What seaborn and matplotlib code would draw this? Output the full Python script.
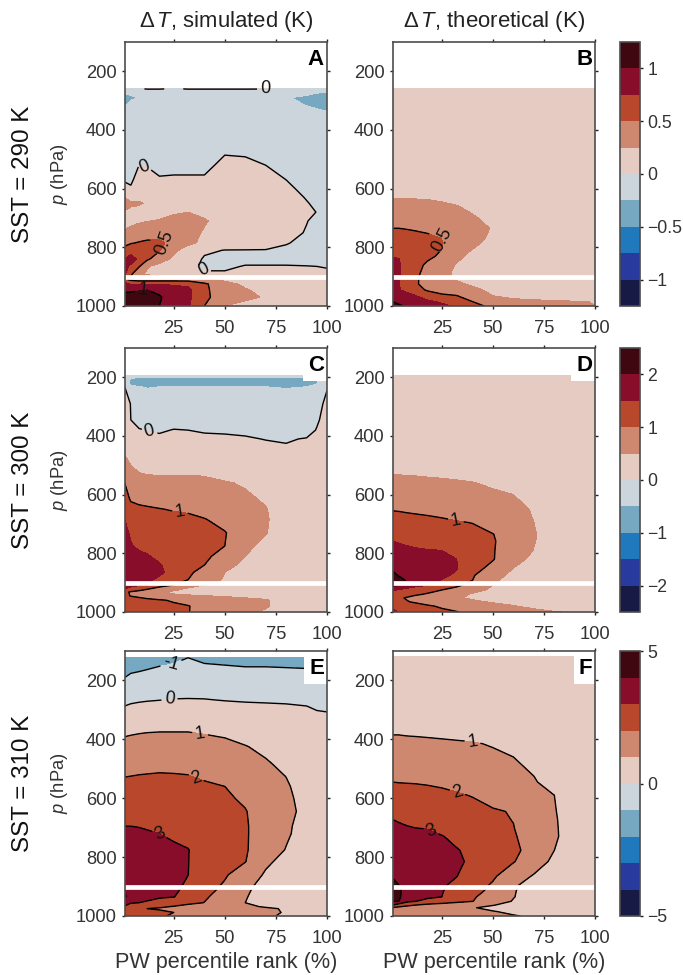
import numpy as np
import matplotlib
matplotlib.use("Agg")
import matplotlib.pyplot as plt
from matplotlib.colors import ListedColormap, BoundaryNorm
import seaborn as sns

pw_rank = [1, 4, 8, 12, 18, 25, 32, 40, 50, 60, 70, 80, 90, 95, 100]

p_A = [260, 268, 290, 315, 345, 400, 480, 520, 570, 600, 630, 650, 680, 710, 750, 785, 810, 840, 865, 890, 910, 925, 945, 970, 1000]
dT_A = [
 [-.02,-.05,-.02,.01,.01,-.02,.01,.01,.01,.01,.005,-.02,-.05,-.1,-.15],
 [-.22,-.2,-.15,-.1,-.1,-.1,-.1,-.1,-.1,-.1,-.1,-.15,-.2,-.22,-.24],
 [-.3,-.28,-.24,-.15,-.12,-.12,-.12,-.12,-.12,-.12,-.13,-.24,-.28,-.32,-.33],
 [-.27,-.2,-.15,-.12,-.12,-.12,-.12,-.12,-.12,-.12,-.12,-.15,-.26,-.3,-.32],
 [-.2,-.15,-.12,-.1,-.1,-.1,-.1,-.1,-.1,-.1,-.1,-.12,-.15,-.18,-.22],
 [-.15,-.13,-.1,-.1,-.1,-.1,-.1,-.1,-.08,-.08,-.1,-.12,-.15,-.16,-.2],
 [-.1,-.12,-.07,-.07,-.08,-.08,-.08,-.06,-.01,-.02,-.05,-.1,-.15,-.15,-.15],
 [-.1,-.12,0.0,-.01,-.06,-.06,-.06,-.06,.06,.05,.0,-.06,-.12,-.13,-.15],
 [-.01,-.03,.07,.07,.02,.03,.03,.03,.1,.1,.07,0,-.08,-.1,-.15],
 [.03,.02,.1,.1,.06,.06,.07,.08,.12,.12,.1,.04,-.05,-.08,-.13],
 [.25,.1,.2,.14,.12,.12,.13,.13,.14,.14,.12,.07,-.01,-.05,-.12],
 [.3,.3,.28,.22,.14,.16,.18,.16,.15,.15,.13,.08,.01,-.03,-.11],
 [.24,.18,.16,.18,.2,.23,.25,.2,.16,.15,.13,.08,.02,-.002,-.1],
 [.18,.21,.23,.245,.26,.3,.31,.27,.16,.14,.12,.08,.005,-.03,-.09],
 [.27,.3,.33,.37,.36,.34,.32,.23,.15,.12,.09,.05,-.01,-.05,-.08],
 [.42,.48,.52,.55,.56,.4,.3,.2,.12,.08,.05,.01,-.04,-.06,-.08],
 [.6,.68,.72,.6,.52,.3,.15,.03,-.005,-.005,-.005,-.03,-.06,-.08,-.08],
 [.76,.82,.72,.54,.36,.2,.1,-.02,-.05,-.05,-.05,-.05,-.06,-.06,-.07],
 [.8,.72,.52,.27,.17,.11,.05,-.03,-.03,.01,.01,.01,.005,.0,-.005],
 [.78,.55,.3,.22,.15,.1,.05,.02,.02,.03,.03,.03,.03,.02,.015],
 [.55,.45,.4,.4,.4,.4,.4,.33,.2,.1,.08,.06,.05,.04,.04],
 [.85,.72,.72,.72,.72,.72,.7,.54,.33,.2,.12,.09,.07,.06,.05],
 [.97,.98,.99,1.0,.95,.88,.8,.55,.35,.27,.18,.12,.09,.07,.06],
 [1.05,1.05,1.06,1.08,1.02,.9,.8,.55,.38,.3,.23,.14,.1,.08,.07],
 [1.1,1.1,1.1,1.08,1.0,.9,.78,.5,.25,.18,.13,.1,.08,.07,.06],
]

p_B = [260, 500, 600, 635, 660, 700, 735, 770, 800, 830, 860, 890, 910, 925, 945, 965, 985, 1000]
dT_B = [
 [.05,.05,.05,.05,.05,.04,.04,.04,.03,.03,.03,.02,.02,.02,.02],
 [.17,.17,.16,.16,.15,.12,.1,.08,.06,.05,.04,.04,.03,.03,.03],
 [.23,.23,.22,.22,.21,.19,.17,.14,.1,.07,.06,.05,.04,.04,.03],
 [.25,.25,.25,.25,.245,.23,.2,.17,.12,.08,.07,.06,.05,.04,.04],
 [.32,.32,.32,.31,.3,.28,.26,.21,.14,.1,.08,.07,.05,.05,.04],
 [.42,.42,.42,.41,.39,.35,.31,.27,.2,.12,.1,.08,.06,.05,.05],
 [.5,.5,.49,.48,.46,.4,.34,.3,.24,.15,.11,.09,.07,.06,.05],
 [.6,.6,.58,.56,.54,.5,.38,.3,.22,.14,.11,.09,.07,.06,.05],
 [.68,.68,.66,.62,.58,.51,.36,.26,.19,.14,.11,.09,.07,.06,.05],
 [.74,.74,.7,.62,.55,.46,.3,.2,.17,.13,.11,.09,.07,.06,.05],
 [.8,.78,.66,.58,.46,.33,.24,.17,.15,.12,.1,.09,.07,.06,.05],
 [.85,.78,.62,.55,.42,.3,.22,.17,.15,.12,.1,.09,.07,.06,.05],
 [.85,.77,.62,.54,.4,.3,.24,.2,.16,.13,.1,.09,.07,.06,.05],
 [.87,.75,.62,.53,.42,.34,.28,.23,.18,.14,.11,.09,.08,.07,.06],
 [.92,.77,.68,.6,.47,.38,.33,.28,.22,.17,.13,.11,.09,.08,.07],
 [.96,.9,.83,.76,.64,.55,.51,.38,.25,.2,.16,.13,.11,.1,.08],
 [1.0,.95,.88,.84,.79,.72,.6,.5,.38,.3,.29,.28,.26,.255,.24],
 [1.1,1.03,.98,.95,.88,.8,.72,.58,.44,.37,.33,.3,.28,.27,.25],
]

p_C = [195, 205, 215, 232, 290, 345, 380, 410, 430, 465, 500, 535, 560, 615, 650, 685, 730, 775, 810, 840, 865, 890, 908, 918, 932, 945, 960, 980, 1000]
dT_C = [
 [-.1,-.4,-.42,-.42,-.42,-.42,-.42,-.42,-.42,-.42,-.42,-.42,-.42,-.3,-.05],
 [-.2,-.52,-.55,-.55,-.55,-.55,-.55,-.55,-.55,-.55,-.55,-.55,-.55,-.52,-.1],
 [-.3,-.6,-.65,-.65,-.65,-.65,-.65,-.65,-.65,-.65,-.65,-.65,-.6,-.55,-.2],
 [.0,-.47,-.49,-.52,-.5,-.49,-.49,-.49,-.48,-.48,-.5,-.52,-.5,-.45,-.03],
 [.12,-.01,-.25,-.3,-.3,-.3,-.3,-.3,-.32,-.32,-.33,-.33,-.33,-.15,.1],
 [.2,.0,-.1,-.12,-.13,-.1,-.12,-.13,-.15,-.17,-.2,-.22,-.22,-.05,.14],
 [.3,.15,.02,-.01,-.03,.01,.0,-.03,-.04,-.06,-.12,-.15,-.14,.02,.2],
 [.38,.25,.1,.07,.05,.08,.09,.06,.05,.03,-.01,-.03,.02,.12,.25],
 [.43,.3,.15,.13,.11,.14,.14,.12,.1,.08,.04,.01,.06,.15,.28],
 [.5,.37,.25,.22,.2,.23,.23,.2,.18,.15,.11,.08,.11,.18,.3],
 [.6,.5,.35,.32,.3,.33,.33,.3,.26,.22,.16,.12,.13,.2,.3],
 [.72,.62,.56,.52,.5,.5,.51,.49,.38,.3,.2,.15,.15,.2,.28],
 [1.0,.75,.65,.62,.6,.6,.6,.58,.54,.45,.28,.18,.16,.2,.25],
 [1.2,.95,.9,.88,.8,.78,.75,.72,.66,.58,.45,.2,.15,.15,.2],
 [1.35,1.15,1.08,1.05,1.02,.97,.95,.87,.75,.62,.52,.3,.2,.18,.2],
 [1.5,1.32,1.25,1.2,1.15,1.12,1.08,1.02,.88,.7,.54,.3,.2,.18,.18],
 [1.6,1.45,1.35,1.3,1.27,1.2,1.16,1.1,1.02,.78,.52,.3,.2,.17,.17],
 [1.7,1.53,1.43,1.4,1.35,1.28,1.2,1.12,1.0,.6,.38,.25,.18,.16,.16],
 [1.8,1.7,1.6,1.53,1.42,1.32,1.2,1.08,.85,.5,.3,.22,.17,.15,.15],
 [1.85,1.75,1.68,1.62,1.53,1.35,1.15,1.0,.6,.42,.25,.2,.17,.15,.15],
 [1.85,1.75,1.7,1.62,1.55,1.4,1.1,.8,.5,.35,.22,.18,.16,.15,.15],
 [1.8,1.7,1.62,1.55,1.45,1.2,1.0,.75,.45,.3,.2,.17,.15,.14,.14],
 [1.65,1.6,1.55,1.5,1.2,1.0,.8,.5,.35,.25,.18,.15,.14,.13,.13],
 [1.55,1.45,1.3,1.15,.9,.7,.5,.4,.3,.22,.17,.14,.13,.12,.12],
 [1.1,.95,.85,.7,.55,.42,.38,.35,.3,.25,.2,.16,.14,.13,.12],
 [1.1,.98,.9,.8,.65,.58,.54,.51,.47,.42,.35,.26,.2,.17,.15],
 [1.35,1.25,1.18,1.12,1.05,.95,.85,.7,.65,.6,.54,.3,.2,.17,.15],
 [1.35,1.3,1.25,1.22,1.15,1.08,1.02,.85,.7,.62,.55,.25,.17,.15,.13],
 [1.3,1.28,1.22,1.18,1.12,1.06,1.02,.8,.65,.55,.45,.2,.15,.13,.12],
]

p_D = [195, 400, 532, 560, 600, 640, 655, 695, 735, 758, 790, 820, 850, 875, 892, 908, 925, 940, 952, 965, 980, 1000]
dT_D = [
 [.2,.2,.2,.18,.16,.14,.12,.1,.1,.1,.1,.1,.1,.1,.1],
 [.35,.35,.35,.34,.33,.32,.3,.27,.22,.18,.15,.13,.12,.1,.1],
 [.5,.5,.49,.49,.48,.47,.45,.43,.37,.3,.24,.18,.15,.13,.12],
 [.58,.58,.57,.56,.55,.54,.53,.51,.46,.39,.29,.21,.17,.14,.12],
 [.7,.7,.68,.67,.65,.63,.61,.58,.54,.5,.36,.24,.18,.15,.13],
 [.95,.93,.9,.88,.85,.8,.75,.68,.6,.56,.46,.28,.2,.16,.13],
 [1.0,.99,.97,.95,.92,.88,.84,.76,.65,.58,.48,.3,.2,.16,.13],
 [1.2,1.18,1.15,1.14,1.12,1.08,1.03,.99,.82,.66,.5,.33,.21,.17,.14],
 [1.37,1.36,1.33,1.3,1.27,1.22,1.17,1.12,1.01,.76,.53,.3,.2,.17,.14],
 [1.5,1.47,1.42,1.38,1.33,1.27,1.2,1.15,1.04,.75,.52,.3,.2,.17,.14],
 [1.62,1.6,1.58,1.55,1.52,1.5,1.3,1.18,1.03,.72,.49,.28,.2,.16,.14],
 [1.8,1.77,1.72,1.68,1.62,1.57,1.51,1.25,1.03,.62,.42,.26,.19,.16,.14],
 [1.93,1.88,1.8,1.75,1.68,1.6,1.53,1.2,.85,.5,.35,.24,.18,.15,.14],
 [2.1,1.97,1.85,1.75,1.65,1.57,1.45,1.05,.62,.42,.28,.2,.17,.15,.14],
 [2.3,2.15,1.96,1.85,1.7,1.48,1.2,1.0,.55,.38,.25,.2,.17,.15,.14],
 [2.1,2.0,1.8,1.65,1.53,1.3,1.1,.85,.5,.3,.22,.18,.16,.15,.14],
 [1.6,1.45,1.35,1.25,1.15,1.0,.85,.65,.42,.27,.2,.17,.15,.14,.13],
 [1.25,1.2,1.12,1.06,.95,.8,.65,.45,.35,.25,.18,.16,.14,.13,.13],
 [1.2,1.05,.97,.85,.7,.6,.53,.46,.36,.27,.2,.17,.15,.14,.13],
 [1.3,1.15,1.02,.95,.85,.75,.65,.55,.47,.4,.3,.2,.17,.15,.14],
 [1.4,1.3,1.2,1.15,1.05,.95,.85,.72,.6,.52,.42,.28,.2,.17,.15],
 [1.6,1.5,1.35,1.28,1.18,1.08,1.02,.9,.75,.68,.6,.53,.44,.38,.3],
]

p_E = [123, 148, 165, 190, 230, 265, 290, 320, 375, 395, 425, 485, 525, 560, 600, 645, 695, 720, 775, 815, 860, 905, 935, 955, 968, 975, 988, 1000]
dT_E = [
 [-1.6,-1.6,-1.5,-1.4,-1.25,-1.1,-1.0,-1.1,-1.2,-1.3,-1.3,-1.3,-1.3,-1.3,-1.3],
 [-1.3,-1.25,-1.2,-1.15,-1.03,-.97,-.95,-.97,-1.0,-1.05,-1.05,-1.08,-1.1,-1.1,-1.1],
 [-1.2,-1.1,-1.05,-.98,-.9,-.85,-.83,-.85,-.87,-.9,-.9,-.92,-.95,-.95,-.98],
 [-1.0,-.87,-.8,-.75,-.7,-.65,-.65,-.65,-.67,-.7,-.7,-.72,-.75,-.75,-.8],
 [-.55,-.45,-.38,-.35,-.3,-.27,-.25,-.27,-.3,-.33,-.35,-.38,-.45,-.5,-.55],
 [-.2,-.13,-.08,-.05,-.02,.02,.03,.02,-.04,-.08,-.1,-.14,-.2,-.3,-.35],
 [.03,.1,.14,.17,.2,.22,.24,.22,.2,.15,.12,.1,.03,-.1,-.17],
 [.3,.35,.4,.42,.45,.47,.48,.45,.43,.38,.33,.28,.23,.15,.13],
 [.87,.9,.95,.98,1.0,1.0,1.0,.95,.85,.7,.6,.5,.4,.3,.25],
 [1.03,1.08,1.12,1.15,1.15,1.15,1.12,1.08,1.0,.85,.72,.6,.45,.33,.3],
 [1.3,1.33,1.37,1.38,1.4,1.4,1.38,1.3,1.2,1.03,.85,.7,.5,.38,.33],
 [1.75,1.8,1.85,1.87,1.9,1.9,1.85,1.75,1.55,1.3,1.08,.85,.6,.43,.35],
 [1.98,2.0,2.02,2.03,2.04,2.03,2.02,1.9,1.7,1.45,1.2,.99,.65,.47,.38],
 [2.2,2.23,2.25,2.27,2.28,2.25,2.2,2.12,2.0,1.6,1.3,1.08,.7,.5,.4],
 [2.45,2.47,2.5,2.5,2.5,2.48,2.45,2.32,2.15,1.85,1.4,1.15,.75,.5,.4],
 [2.75,2.77,2.75,2.73,2.72,2.68,2.6,2.5,2.3,2.05,1.5,1.2,.8,.5,.4],
 [3.0,3.0,2.98,2.95,2.88,2.78,2.7,2.55,2.35,2.1,1.5,1.12,.72,.48,.38],
 [3.12,3.12,3.1,3.05,3.0,2.88,2.78,2.6,2.35,2.1,1.5,1.1,.7,.45,.38],
 [3.35,3.35,3.32,3.28,3.22,3.12,3.02,2.7,2.4,2.1,1.4,.97,.65,.43,.35],
 [3.5,3.48,3.45,3.4,3.3,3.15,3.02,2.6,2.3,2.03,1.15,.75,.5,.4,.33],
 [3.8,3.7,3.6,3.45,3.3,3.12,3.01,2.4,2.1,1.5,.9,.6,.45,.38,.3],
 [4.0,3.8,3.6,3.45,3.35,3.2,2.8,2.3,1.85,1.15,.7,.5,.4,.35,.3],
 [4.1,3.6,3.35,3.22,3.1,3.02,2.7,2.12,1.6,1.05,.65,.5,.4,.35,.3],
 [3.2,3.05,3.0,2.9,2.65,2.5,2.25,1.98,1.4,1.0,.8,.6,.5,.4,.35],
 [2.95,2.65,2.45,2.35,2.15,1.95,1.65,1.4,1.25,1.1,.95,.7,.5,.4,.35],
 [2.8,2.3,2.1,2.0,1.9,1.8,1.6,1.45,1.3,1.2,1.08,.95,.55,.42,.35],
 [2.7,2.5,2.4,2.3,2.2,2.0,1.75,1.55,1.4,1.3,1.15,.95,.55,.42,.35],
 [2.5,2.4,2.3,2.25,2.1,1.9,1.7,1.5,1.35,1.2,1.1,.9,.5,.4,.35],
]

p_F = [120, 300, 385, 415, 460, 525, 545, 590, 645, 672, 705, 730, 777, 815, 865, 895, 915, 935, 950, 963, 972, 985, 1000]
dT_F = [
 [.4,.38,.35,.3,.25,.2,.17,.13,.1,.08,.06,.05,.04,.03,.03],
 [.7,.7,.68,.65,.6,.55,.5,.45,.4,.3,.25,.18,.14,.1,.1],
 [1.0,1.0,.98,.97,.95,.92,.88,.83,.75,.6,.48,.35,.27,.22,.2],
 [1.17,1.16,1.15,1.14,1.12,1.1,1.08,1.05,.95,.78,.58,.42,.3,.25,.22],
 [1.42,1.41,1.4,1.38,1.35,1.32,1.28,1.22,1.12,1.0,.72,.5,.35,.28,.24],
 [1.87,1.85,1.84,1.82,1.8,1.75,1.67,1.55,1.36,1.18,1.0,.7,.4,.3,.26],
 [2.0,1.98,1.97,1.96,1.93,1.88,1.8,1.67,1.47,1.25,1.05,.77,.42,.32,.27],
 [2.35,2.33,2.3,2.27,2.22,2.15,2.07,1.97,1.7,1.42,1.2,1.0,.5,.35,.28],
 [2.83,2.78,2.7,2.65,2.58,2.5,2.37,2.22,2.08,1.95,1.35,1.05,.55,.37,.3],
 [3.0,2.93,2.85,2.8,2.72,2.62,2.48,2.32,2.13,1.98,1.42,1.08,.57,.38,.3],
 [3.22,3.15,3.08,3.03,3.0,2.8,2.62,2.43,2.2,2.03,1.55,1.1,.58,.38,.3],
 [3.38,3.3,3.22,3.16,3.1,3.04,2.8,2.55,2.25,2.08,1.62,1.12,.55,.38,.3],
 [3.6,3.52,3.45,3.4,3.3,3.2,3.06,2.8,2.45,2.2,1.65,1.0,.5,.36,.3],
 [3.8,3.7,3.6,3.5,3.4,3.3,3.12,2.88,2.5,2.05,1.45,.8,.45,.33,.28],
 [3.95,3.85,3.7,3.55,3.4,3.2,3.03,2.6,2.12,1.45,.92,.6,.38,.3,.25],
 [4.2,4.0,3.7,3.55,3.35,3.12,2.8,2.4,1.9,1.1,.72,.5,.35,.3,.25],
 [4.2,4.1,3.75,3.55,3.3,3.05,2.65,2.25,1.8,1.05,.68,.45,.33,.28,.24],
 [4.25,4.15,3.5,3.3,3.15,3.0,2.55,2.1,1.6,1.03,.65,.42,.32,.27,.24],
 [4.05,4.0,3.2,3.02,2.75,2.5,2.25,2.02,1.4,.95,.6,.42,.32,.27,.24],
 [3.0,2.5,2.2,2.0,1.75,1.6,1.45,1.25,1.03,.75,.55,.4,.32,.27,.24],
 [1.9,1.75,1.6,1.45,1.3,1.2,1.15,1.05,.8,.6,.5,.4,.32,.27,.24],
 [1.75,1.7,1.6,1.5,1.35,1.25,1.2,1.12,1.04,.85,.6,.42,.32,.27,.24],
 [1.7,1.6,1.55,1.5,1.4,1.3,1.25,1.2,1.12,1.05,.9,.5,.32,.27,.24],
]

levels_290 = [-1.25, -1, -.75, -.5, -.25, 0, .25, .5, .75, 1, 1.25]
levels_300 = [-2.5, -2, -1.5, -1, -.5, 0, .5, 1, 1.5, 2, 2.5]
levels_310 = [-5, -4, -3, -2, -1, 0, 1, 2, 3, 4, 5]
cbar_ticks_290 = [-1, -.5, 0, .5, 1]
cbar_ticks_300 = [-2, -1, 0, 1, 2]
cbar_ticks_310 = [-5, 0, 5]
cbar_labels_290 = ["\u22121", "\u22120.5", "0", "0.5", "1"]
cbar_labels_300 = ["\u22122", "\u22121", "0", "1", "2"]
cbar_labels_310 = ["\u22125", "0", "5"]
band_colors = ["#171a45", "#283a9e", "#2079bc", "#76a9c1", "#cbd5db",
               "#e6cbc3", "#cf8870", "#b8472c", "#870d2a", "#3f0810"]
row_titles = ["SST = 290 K", "SST = 300 K", "SST = 310 K"]
x_ticks = [25, 50, 75, 100]
y_ticks = [200, 400, 600, 800, 1000]

sns.set_theme(style="ticks")
plt.rcParams["font.family"] = ["Liberation Sans", "DejaVu Sans"]
plt.rcParams["mathtext.fontset"] = "custom"
plt.rcParams["mathtext.it"] = "Liberation Sans:italic"
plt.rcParams["mathtext.rm"] = "Liberation Sans"
plt.rcParams["contour.negative_linestyle"] = "solid"
INK = "#333333"
EDGE = "#4d4d4d"
W, H = 683, 975
fig = plt.figure(figsize=(W / 100, H / 100), dpi=100)
cmap = ListedColormap(sns.color_palette(band_colors))


def box(l, t, r, b):
    return [l / W, 1 - b / H, (r - l) / W, (b - t) / H]


def style(ax):
    for s in ax.spines.values():
        s.set_color(EDGE)
        s.set_linewidth(1.2)
    ax.tick_params(axis="both", which="both", direction="out", length=2.4, width=1.0,
                   color="#222222", labelsize=13.2, labelcolor=INK)
    ax.tick_params(axis="y", pad=3.4)
    ax.tick_params(axis="x", pad=7.6)


rows_px = [(42, 306), (348, 612), (651, 916)]
cols_px = [(124.7, 327), (392.7, 595.3)]
panels = [
    ("A", 0, 0, p_A, dT_A, levels_290, [0, .5, 1],
     [(69.7, 264), (11, 519), (39.5, 877), (22, 782), (10, 945)]),
    ("B", 0, 1, p_B, dT_B, levels_290, [.5, 1], [(24, 775)]),
    ("C", 1, 0, p_C, dT_C, levels_300, [0, 1], [(13, 389), (28, 658)]),
    ("D", 1, 1, p_D, dT_D, levels_300, [1, 2], [(32, 685)]),
    ("E", 2, 0, p_E, dT_E, levels_310, [-1, 0, 1, 2, 3, 4],
     [(24, 152), (23, 270), (38, 378), (36, 530), (18, 722)]),
    ("F", 2, 1, p_F, dT_F, levels_310, [1, 2, 3, 4], [(40, 408), (33, 571), (20, 708)]),
]

for name, r, c, p, dT, levels, line_levels, label_at in panels:
    t, b = rows_px[r]
    l, rr = cols_px[c]
    ax = fig.add_axes(box(l, t, rr, b))
    norm = BoundaryNorm(levels, cmap.N)
    ax.contourf(pw_rank, p, np.array(dT), levels=levels, cmap=cmap, norm=norm, extend="neither")
    cs = ax.contour(pw_rank, p, np.array(dT), levels=line_levels, colors="black", linewidths=1.0)
    ax.clabel(cs, fmt="%g", fontsize=13, inline=True, inline_spacing=3, manual=label_at, colors="#111111")
    ax.axhline(900, color="white", lw=3.4, zorder=2.1)
    ax.set_xlim(1, 100)
    ax.set_ylim(1000, 100)
    ax.set_xticks(x_ticks)
    ax.set_yticks(y_ticks)
    sns.despine(ax=ax, top=False, right=False)
    style(ax)
    ax.tick_params(top=True, right=True)
    ax.text(0.985, 0.935, name, transform=ax.transAxes, ha="right", va="center",
            fontsize=16, fontweight="bold", color="black", zorder=2.3, clip_on=True,
            bbox=dict(facecolor="white", edgecolor="none", pad=3.5))
    if c == 0:
        ax.set_ylabel(r"$\mathit{p}$ (hPa)", fontsize=13.2, color=INK)
        ax.yaxis.set_label_coords((70 - l) / (rr - l), 0.5)
        fig.text(23 / W, 1 - (t + b) / 2 / H, row_titles[r], rotation=90, ha="center", va="center",
                 fontsize=17.4, color="#111111")
    if r == 2:
        ax.set_xlabel("PW percentile rank (%)", fontsize=15.6, color=INK, labelpad=4)
    if r == 0:
        kind = "simulated" if c == 0 else "theoretical"
        ax.set_title(r"$\Delta\,\mathit{T}$, " + kind + " (K)", fontsize=15.9, color="#222222", pad=10.5)

colorbars = [(0, levels_290, cbar_ticks_290, cbar_labels_290),
             (1, levels_300, cbar_ticks_300, cbar_labels_300),
             (2, levels_310, cbar_ticks_310, cbar_labels_310)]
for r, levels, ticks, labels in colorbars:
    t, b = rows_px[r]
    cax = fig.add_axes(box(620, t, 640, b))
    norm = BoundaryNorm(levels, cmap.N)
    sm = plt.cm.ScalarMappable(norm=norm, cmap=cmap)
    cb = fig.colorbar(sm, cax=cax, ticks=ticks, spacing="proportional", drawedges=False)
    cb.set_ticklabels(labels)
    cb.minorticks_off()
    cb.outline.set_edgecolor(EDGE)
    cb.outline.set_linewidth(1.2)
    cax.tick_params(axis="y", direction="out", length=2.4, width=1.0, color="#222222",
                    labelsize=12.7, labelcolor=INK, pad=3)

fig.savefig("out.png", dpi=100)
